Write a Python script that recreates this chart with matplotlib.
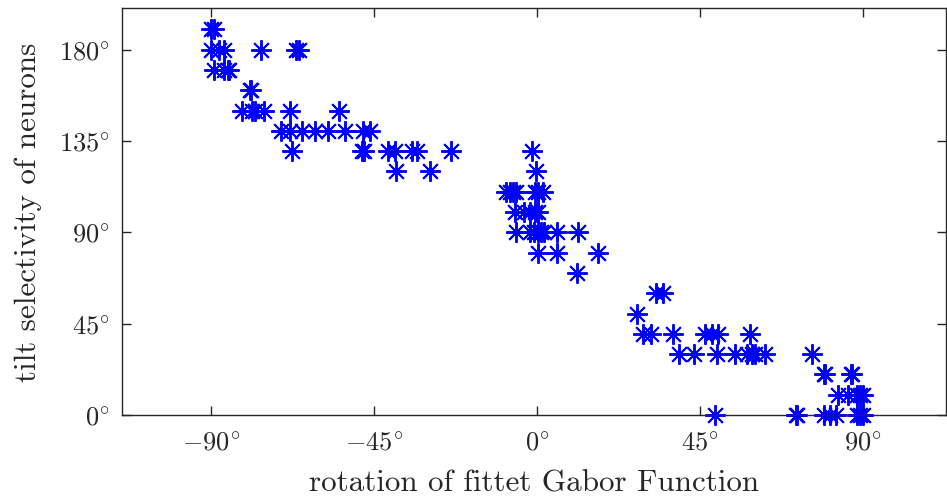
import matplotlib
matplotlib.use("Agg")
import matplotlib.pyplot as plt

# rotation of fitted Gabor function (deg)
rotation = [
    -90.0, -89.2,
    -90.0, -88.0, -86.5, -76.3, -66.6, -65.9,
    -89.2, -86.6, -85.5, -85.0,
    -79.3, -79.0,
    -81.6, -78.8, -78.0, -75.5, -68.2, -54.7,
    -70.8, -68.4, -65.0, -61.4, -57.9, -53.2, -48.0, -46.2,
    -67.8, -48.3, -47.8, -41.2, -39.3, -34.7, -33.3, -23.7, -1.5,
    -39.1, -29.7, -0.2,
    -8.5, -7.5, -6.6, -5.7, -0.6, 0.3, 1.7,
    -6.0, -3.5, -2.0, -0.6, 0.3,
    -5.7, -2.0, -0.8, 0.3, 1.0, 1.8, 5.6, 11.4,
    0.3, 5.4, 16.9,
    11.1,
    33.0, 34.8,
    27.6,
    29.3, 31.6, 37.6, 46.4, 48.2, 50.0, 58.8,
    39.3, 43.4, 49.7, 54.8, 57.9, 59.3, 60.2, 62.9, 76.1,
    79.3, 79.6, 86.7, 87.1,
    83.2, 86.0, 88.3, 89.2, 90.1,
    49.3, 71.5, 71.9, 79.2, 80.9, 82.5, 88.3, 89.2, 90.1,
]
# tilt selectivity of neurons (deg)
tilt = [
    190, 190,
    180, 180, 180, 180, 180, 180,
    170, 170, 170, 170,
    160, 160,
    150, 150, 150, 150, 150, 150,
    140, 140, 140, 140, 140, 140, 140, 140,
    130, 130, 130, 130, 130, 130, 130, 130, 130,
    120, 120, 120,
    110, 110, 110, 110, 110, 110, 110,
    100, 100, 100, 100, 100,
    90, 90, 90, 90, 90, 90, 90, 90,
    80, 80, 80,
    70,
    60, 60,
    50,
    40, 40, 40, 40, 40, 40, 40,
    30, 30, 30, 30, 30, 30, 30, 30, 30,
    20, 20, 20, 20,
    10, 10, 10, 10, 10,
    0, 0, 0, 0, 0, 0, 0, 0, 0,
]

x_ticks = [-90, -45, 0, 45, 90]
y_ticks = [0, 45, 90, 135, 180]
x_ticklabels = [r"$-90^{\circ}$", r"$-45^{\circ}$", r"$0^{\circ}$", r"$45^{\circ}$", r"$90^{\circ}$"]
y_ticklabels = [r"$0^{\circ}$", r"$45^{\circ}$", r"$90^{\circ}$", r"$135^{\circ}$", r"$180^{\circ}$"]

plt.rcParams["mathtext.fontset"] = "cm"
plt.rcParams["font.family"] = ["cmr10", "DejaVu Serif"]
plt.rcParams["axes.unicode_minus"] = False

fig = plt.figure(figsize=(9.47, 5.02), dpi=100)
ax = fig.add_axes([122 / 947, 1 - 416 / 502, (946 - 122) / 947, (416 - 9) / 502])

ax.plot(rotation, tilt, linestyle="none", marker=(8, 2, 0), markersize=14.8,
        markeredgewidth=1.4, color=(0, 0, 1), clip_on=False)

ax.set_xlim(-114.7, 113.0)
ax.set_ylim(0, 200.5)
ax.set_xticks(x_ticks)
ax.set_xticklabels(x_ticklabels)
ax.set_yticks(y_ticks)
ax.set_yticklabels(y_ticklabels)

spine_color = "#262626"
for s in ax.spines.values():
    s.set_color(spine_color)
    s.set_linewidth(1.0)
ax.tick_params(direction="in", length=6.5, width=1.0, color=spine_color,
               top=True, right=True, labelsize=19, labelcolor=spine_color)
ax.tick_params(axis="x", pad=11)
ax.tick_params(axis="y", pad=9)

ax.set_xlabel("rotation of fittet Gabor Function", fontsize=22.4, color=spine_color, labelpad=11)
ax.set_ylabel("tilt selectivity of neurons", fontsize=22.4, color=spine_color, labelpad=12)

fig.savefig("out.png", dpi=100)
